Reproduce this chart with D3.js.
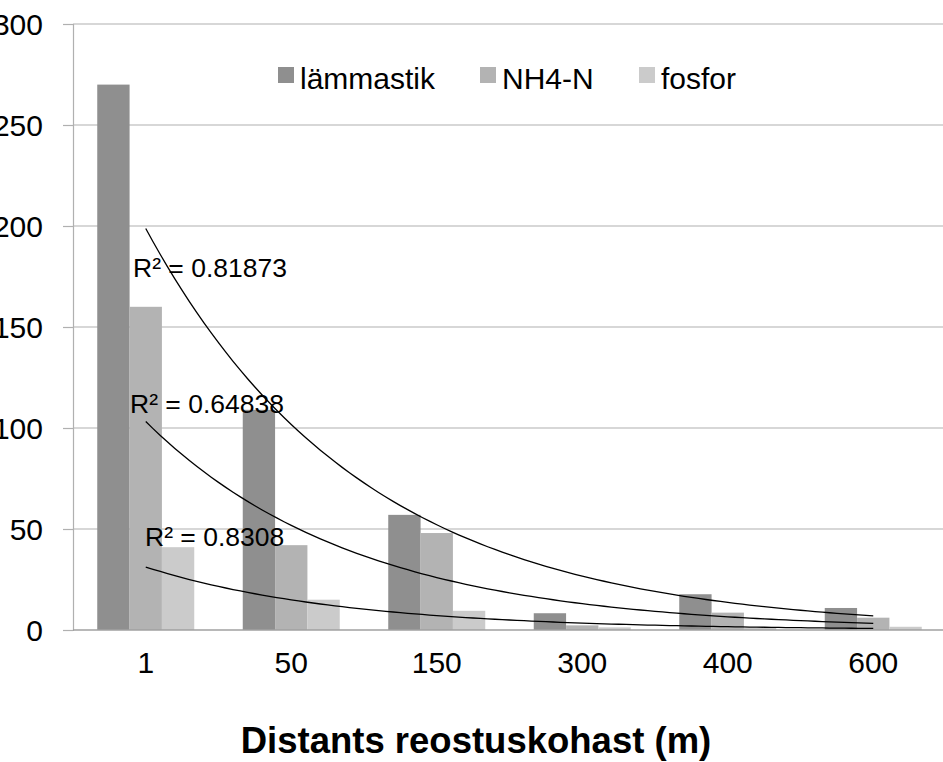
<!DOCTYPE html>
<html>
<head>
<meta charset="utf-8">
<script src="https://cdn.jsdelivr.net/npm/d3@7"></script>
<style>
  html, body { margin: 0; padding: 0; background: #ffffff; }
  svg { display: block; }
  text { font-family: "Liberation Sans", Arial, sans-serif; fill: #000; }
</style>
</head>
<body>
<script>
// ---- data ----
const categories = ["1", "50", "150", "300", "400", "600"];
const seriesNames = ["lämmastik", "NH4-N", "fosfor"];
const lammastik = [270, 109, 57, 8.3, 17.7, 10.9];
const nh4n = [160, 42, 48, 2.3, 8.6, 6.1];
const fosfor = [41, 15, 9.5, 1.3, 1.2, 1.6];
const r2Labels = ["R² = 0.81873", "R² = 0.64838", "R² = 0.8308"];
const yTicks = [0, 50, 100, 150, 200, 250, 300];
const xTitle = "Distants reostuskohast (m)";

const seriesValues = [lammastik, nh4n, fosfor];
const colors = ["#8f8f8f", "#b3b3b3", "#cbcbcb"];

const W = 943, H = 762;
const plotLeft = 73, plotRight = 946, plotTop = 24, plotBottom = 630;

const svg = d3.select("body").append("svg").attr("width", W).attr("height", H);

const x = d3.scaleBand().domain(categories).range([plotLeft, plotRight]).padding(0);
const step = x.bandwidth();
const xInner = d3.scaleBand().domain(seriesNames)
  .range([step / 6, step - step / 6]).padding(0);
const y = d3.scaleLinear().domain([0, 300]).range([plotBottom, plotTop]);

// gridlines
svg.append("g").selectAll("line").data(yTicks.filter(d => d > 0)).join("line")
  .attr("x1", plotLeft).attr("x2", W)
  .attr("y1", d => y(d)).attr("y2", d => y(d))
  .attr("stroke", "#b0b0b0").attr("stroke-width", 1.2);

// y axis
const yAxis = d3.axisLeft(y).tickValues(yTicks).tickSize(10).tickPadding(20).tickFormat(d3.format("d"));
const gy = svg.append("g").attr("transform", `translate(${plotLeft},0)`).call(yAxis);
gy.select(".domain").attr("stroke", "#b0b0b0").attr("stroke-width", 1.2);
gy.selectAll(".tick line").attr("stroke", "#b0b0b0").attr("stroke-width", 1.2);
gy.selectAll(".tick text").attr("font-size", 30).attr("font-family", "Liberation Sans, Arial, sans-serif")
  .attr("fill", "#000").attr("dy", "0.36em");

// bars
const groups = svg.append("g").selectAll("g").data(categories).join("g")
  .attr("transform", d => `translate(${x(d)},0)`);
groups.selectAll("rect")
  .data((c, i) => seriesNames.map((s, k) => ({ s, k, v: seriesValues[k][i] })))
  .join("rect")
  .attr("x", d => xInner(d.s))
  .attr("width", xInner.bandwidth())
  .attr("y", d => y(d.v))
  .attr("height", d => y(0) - y(d.v))
  .attr("fill", d => colors[d.k]);

// x axis
const xAxis = d3.axisBottom(x).tickSize(0).tickPadding(22);
const gx = svg.append("g").attr("transform", `translate(0,${plotBottom})`).call(xAxis);
gx.select(".domain").attr("stroke", "#a0a0a0").attr("stroke-width", 1.5)
  .attr("d", `M${plotLeft},0H${W}`);
gx.selectAll(".tick text").attr("font-size", 30).attr("font-family", "Liberation Sans, Arial, sans-serif")
  .attr("fill", "#000").attr("dy", "0.71em");

// exponential trendlines (least squares on ln(y) vs category index 1..6)
function expFit(vals) {
  const xs = vals.map((_, i) => i + 1);
  const ls = vals.map(v => Math.log(v));
  const mx = d3.mean(xs), ml = d3.mean(ls);
  let sxy = 0, sxx = 0;
  xs.forEach((xi, i) => { sxy += (xi - mx) * (ls[i] - ml); sxx += (xi - mx) * (xi - mx); });
  const b = sxy / sxx;
  const a = Math.exp(ml - b * mx);
  return t => a * Math.exp(b * t);
}
const xIdx = d3.scaleLinear().domain([1, categories.length])
  .range([x(categories[0]) + step / 2, x(categories[categories.length - 1]) + step / 2]);
const samples = d3.range(1, categories.length + 0.0001, 0.05);
const line = d3.line().x(d => xIdx(d[0])).y(d => y(d[1])).curve(d3.curveLinear);
seriesValues.forEach(vals => {
  const f = expFit(vals);
  svg.append("path").datum(samples.map(t => [t, f(t)]))
    .attr("d", line).attr("fill", "none").attr("stroke", "#000").attr("stroke-width", 1.3);
});

// R² labels
const r2Pos = [[133, 277], [130, 413], [145, 546]];
svg.append("g").selectAll("text").data(r2Labels).join("text")
  .attr("x", (d, i) => r2Pos[i][0]).attr("y", (d, i) => r2Pos[i][1])
  .attr("font-size", 26.5).text(d => d);

// legend
const legendX = [278, 480, 639];
const lg = svg.append("g").selectAll("g").data(seriesNames).join("g")
  .attr("transform", (d, i) => `translate(${legendX[i]},67)`);
lg.append("rect").attr("width", 16).attr("height", 16).attr("fill", (d, i) => colors[i]);
lg.append("text").attr("x", 22).attr("y", 22).attr("font-size", 30).text(d => d);

// x axis title
svg.append("text").attr("x", 476).attr("y", 753).attr("text-anchor", "middle")
  .attr("font-size", 36.5).attr("font-weight", "bold").text(xTitle);
</script>
</body>
</html>
